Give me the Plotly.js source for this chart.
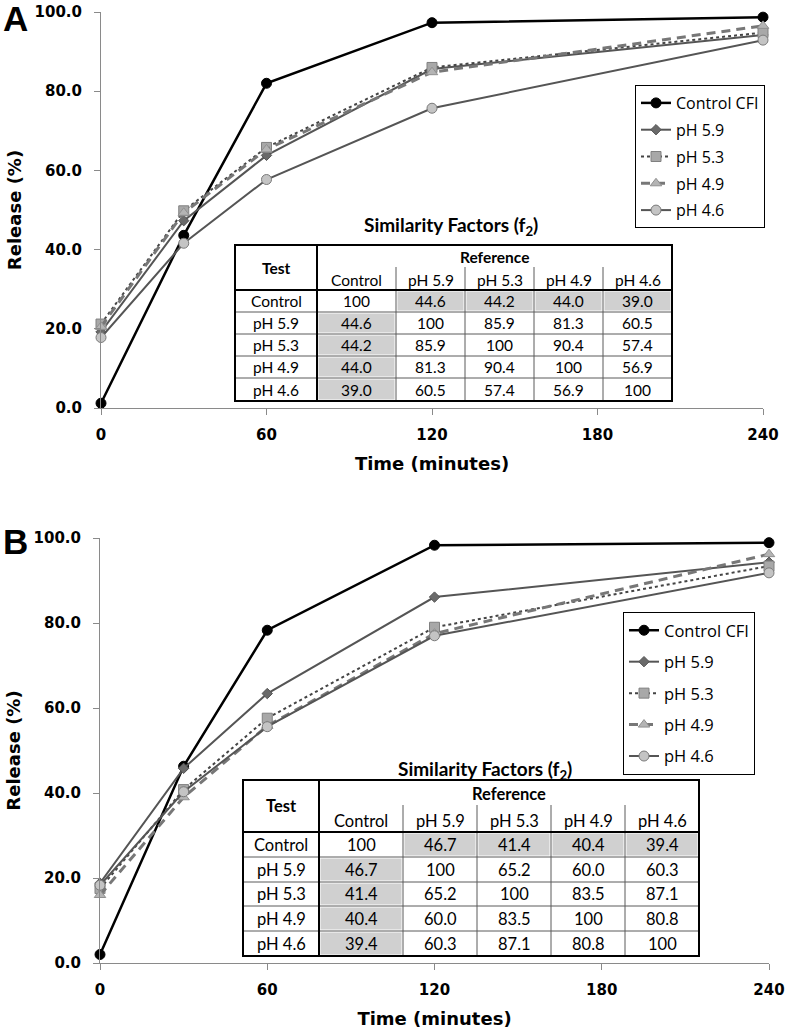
<!DOCTYPE html>
<html><head><meta charset="utf-8">
<script src="https://cdn.plot.ly/plotly-3.0.1.min.js"></script>
<style>html,body{margin:0;padding:0;background:#fff}#chart{width:792px;height:1034px}</style>
</head><body><div id="chart"></div>
<script>
// ---------- DATA ----------
const timeMin = [0, 30, 60, 120, 240];
const seriesNames = ['Control CFI', 'pH 5.9', 'pH 5.3', 'pH 4.9', 'pH 4.6'];

// Panel A release (%)
const releaseA_control = [1.2, 43.6, 82.0, 97.3, 98.7];
const releaseA_ph59    = [19.2, 47.3, 63.8, 85.6, 94.2];
const releaseA_ph53    = [21.2, 49.8, 65.8, 86.0, 94.8];
const releaseA_ph49    = [20.5, 49.3, 65.3, 84.8, 96.5];
const releaseA_ph46    = [17.8, 41.6, 57.7, 75.7, 92.9];

// Panel B release (%)
const releaseB_control = [2.0, 46.3, 78.3, 98.3, 98.9];
const releaseB_ph59    = [18.8, 45.8, 63.4, 86.1, 94.3];
const releaseB_ph53    = [17.5, 40.8, 57.6, 79.0, 93.4];
const releaseB_ph49    = [16.0, 39.0, 55.8, 77.5, 96.2];
const releaseB_ph46    = [18.3, 40.3, 55.6, 77.0, 91.8];

// Similarity factor tables
const f2Labels = ['Control', 'pH 5.9', 'pH 5.3', 'pH 4.9', 'pH 4.6'];
const f2A_control = [100, 44.6, 44.2, 44.0, 39.0];
const f2A_ph59    = [44.6, 100, 85.9, 81.3, 60.5];
const f2A_ph53    = [44.2, 85.9, 100, 90.4, 57.4];
const f2A_ph49    = [44.0, 81.3, 90.4, 100, 56.9];
const f2A_ph46    = [39.0, 60.5, 57.4, 56.9, 100];
const f2B_control = [100, 46.7, 41.4, 40.4, 39.4];
const f2B_ph59    = [46.7, 100, 65.2, 60.0, 60.3];
const f2B_ph53    = [41.4, 65.2, 100, 83.5, 87.1];
const f2B_ph49    = [40.4, 60.0, 83.5, 100, 80.8];
const f2B_ph46    = [39.4, 60.3, 87.1, 80.8, 100];

const yTickVals = [0, 20, 40, 60, 80, 100];
const xTickVals = [0, 60, 120, 180, 240];
const xTitle = 'Time (minutes)';
const yTitle = 'Release (%)';

// ---------- LAYOUT HELPERS ----------
const W = 792, H = 1034;
const px = x => x / W;
const py = y => 1 - y / H;

const styles = [
  {line:{color:'#000000',width:2.5}, marker:{symbol:'circle',size:10,color:'#000000',line:{color:'#000000',width:1}}},
  {line:{color:'#555555',width:2}, marker:{symbol:'diamond',size:8,color:'#6a6a6a',line:{color:'#555555',width:1}}},
  {line:{color:'#444444',width:2,dash:'dot'}, marker:{symbol:'square',size:10,color:'#a8a8a8',line:{color:'#808080',width:1}}},
  {line:{color:'#777777',width:3,dash:'9px,6px'}, marker:{symbol:'triangle-up',size:10,color:'#b4b4b4',line:{color:'#909090',width:1}}},
  {line:{color:'#555555',width:2}, marker:{symbol:'circle',size:10,color:'#c4c4c4',line:{color:'#7a7a7a',width:1}}}
];

const panels = [
  {key:'a', xa:'x', ya:'y', legend:'legend',
   series:[releaseA_control, releaseA_ph59, releaseA_ph53, releaseA_ph49, releaseA_ph46]},
  {key:'b', xa:'x2', ya:'y2', legend:'legend2',
   series:[releaseB_control, releaseB_ph59, releaseB_ph53, releaseB_ph49, releaseB_ph46]}
];

const traces = [];
panels.forEach(p => {
  p.series.forEach((vals, i) => {
    traces.push({
      type:'scatter', mode:'lines+markers', x:timeMin, y:vals,
      xaxis:p.xa, yaxis:p.ya, name:seriesNames[i], legend:p.legend,
      legendgroup:p.key + i, cliponaxis:false,
      line:styles[i].line, marker:styles[i].marker, hoverinfo:'skip'
    });
  });
});

const tickFont = {family:'DejaVu Sans', size:15, color:'#000', weight:700};
const axTitleFont = {family:'DejaVu Sans', size:18, color:'#000', weight:700};
function xAxis(l, r, anchor, standoff) {
  return {domain:[px(l), px(r)], anchor:anchor, range:[0,240], tickvals:xTickVals,
    ticks:'outside', ticklen:6, tickcolor:'#8a8a8a', showline:true, linecolor:'#8a8a8a',
    linewidth:1, showgrid:false, zeroline:false, tickfont:tickFont, ticklabelstandoff:7, fixedrange:true,
    title:{text:xTitle, font:axTitleFont, standoff:standoff}};
}
function yAxis(top, bottom, anchor) {
  return {domain:[py(bottom), py(top)], anchor:anchor, range:[0,100], tickvals:yTickVals,
    tickformat:'.1f', ticks:'outside', ticklen:6, tickcolor:'#8a8a8a', showline:true,
    linecolor:'#8a8a8a', linewidth:1, showgrid:false, zeroline:false, tickfont:tickFont,
    ticklabelstandoff:9, fixedrange:true, title:{text:yTitle, font:axTitleFont, standoff:8}};
}

const annotations = [];
const shapes = [];
function txt(text, x, y, font, extra) {
  annotations.push(Object.assign({text:text, x:px(x), y:py(y), xref:'paper', yref:'paper',
    showarrow:false, xanchor:'center', yanchor:'middle', font:font}, extra || {}));
}
function line(x0, y0, x1, y1, color, width) {
  shapes.push({type:'line', xref:'paper', yref:'paper', x0:px(x0), y0:py(y0), x1:px(x1), y1:py(y1),
    line:{color:color, width:width}});
}
function rect(x0, y0, x1, y1, fill, lc, lw) {
  shapes.push({type:'rect', xref:'paper', yref:'paper', x0:px(x0), y0:py(y0), x1:px(x1), y1:py(y1),
    fillcolor:fill, line:{color:lc || 'rgba(0,0,0,0)', width:lw || 0}});
}

// panel letters
const letterFont = {family:'Liberation Sans', size:35, color:'#000', weight:700};
txt('A', 1, 18, letterFont, {xanchor:'left'});
txt('B', 1, 541, letterFont, {xanchor:'left'});

// similarity tables
function fmt(v) { return v === 100 ? '100' : v.toFixed(1); }
function buildTable(rowsData, g) {
  const c = g.cols, r = g.rows;
  const f = {family:'Lato', size:g.fs, color:'#000'};
  const fb = {family:'Lato', size:g.fs, color:'#000', weight:700};
  txt('Similarity Factors (f<sub>2</sub>)', g.titleX, g.titleY, {family:'Lato', size:19, color:'#000', weight:700});
  rect(c[0], g.top, c[6], r[5], '#ffffff');
  // gray cells
  for (let j = 1; j < 5; j++) rect(c[j+1]+1.5, r[0]+1.5, c[j+2]-1.5, r[1]-1.5, '#d0d0d0');
  for (let i = 1; i < 5; i++) rect(c[1]+1.5, r[i]+1.5, c[2]-1.5, r[i+1]-1.5, '#d0d0d0');
  // thin grid
  for (let i = 1; i < 5; i++) line(c[0], r[i], c[6], r[i], '#5a5a5a', 1);
  for (let j = 2; j < 6; j++) line(c[j], g.subTop, c[j], r[5], '#5a5a5a', 1);
  // thick frame
  rect(c[0], g.top, c[6], r[5], 'rgba(0,0,0,0)', '#000', 2);
  line(c[0], g.hdr, c[6], g.hdr, '#000', 2);
  line(c[1], g.top, c[1], r[5], '#000', 2);
  // header text
  txt('Test', (c[0]+c[1])/2, (g.top+g.hdr)/2, fb);
  txt('Reference', (c[1]+c[6])/2, (g.top+g.subTop)/2 + 1, fb);
  f2Labels.forEach((lab, j) => txt(lab, (c[j+1]+c[j+2])/2, (g.subTop+g.hdr)/2 + 2, f));
  rowsData.forEach((vals, i) => {
    const yc = (r[i]+r[i+1])/2;
    txt(f2Labels[i], (c[0]+c[1])/2, yc, f);
    vals.forEach((v, j) => txt(fmt(v), (c[j+1]+c[j+2])/2, yc, f));
  });
}
buildTable([f2A_control, f2A_ph59, f2A_ph53, f2A_ph49, f2A_ph46],
  {cols:[235,317,396,465,534,603,672], top:245, hdr:290, subTop:267,
   rows:[290,312,334,356,378,401], titleX:451, titleY:226, fs:15.5});
buildTable([f2B_control, f2B_ph59, f2B_ph53, f2B_ph49, f2B_ph46],
  {cols:[243,319,403,477,551,625,699], top:780, hdr:832, subTop:805,
   rows:[832,857,882,906,931,956], titleX:485, titleY:770, fs:16.5});

const legendBase = {xanchor:'left', yanchor:'top', bgcolor:'#ffffff', bordercolor:'#000',
  borderwidth:1, traceorder:'grouped', itemclick:false, itemdoubleclick:false};

const layout = {
  width:W, height:H, margin:{l:0, r:0, t:0, b:0},
  paper_bgcolor:'#ffffff', plot_bgcolor:'rgba(0,0,0,0)',
  font:{family:'Open Sans', color:'#000'},
  showlegend:true,
  xaxis:xAxis(101, 763, 'y', 14), yaxis:yAxis(12, 408, 'x'),
  xaxis2:xAxis(100, 769, 'y2', 14), yaxis2:yAxis(538, 963, 'x2'),
  legend:Object.assign({x:px(635), y:py(85), font:{family:'Open Sans', size:16, color:'#000'},
    tracegroupgap:3}, legendBase),
  legend2:Object.assign({x:px(623), y:py(612), font:{family:'Open Sans', size:16.5, color:'#000'},
    tracegroupgap:7}, legendBase),
  annotations:annotations, shapes:shapes
};

Plotly.newPlot('chart', traces, layout, {displayModeBar:false, staticPlot:true});
</script>
</body></html>
